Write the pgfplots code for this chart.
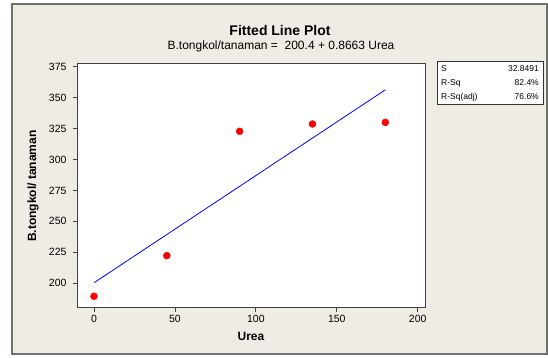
\documentclass[border=0pt]{standalone}
\usepackage{fontspec}
\setmainfont{Liberation Sans}
\usepackage{pgfplots}
\pgfplotsset{compat=1.18}
\definecolor{bg}{RGB}{239,236,227}
\definecolor{framec}{RGB}{112,112,112}
\begin{document}
\begin{tikzpicture}[x=1pt,y=1pt]
\path[use as bounding box, fill=white] (0,0) rectangle (548,358);
\filldraw[fill=bg, draw=framec, line width=1.5pt] (12,4) rectangle (547,354);
\node[font=\fontsize{14}{16}\selectfont\bfseries] at (280,327.3) {Fitted Line Plot};
\node[font=\fontsize{12}{14}\selectfont] at (281,311.3) {B.tongkol/tanaman =\ \ 200.4 + 0.8663 Urea};
\begin{axis}[at={(77pt,50pt)}, anchor=south west, scale only axis,
  width=348pt, height=244pt,
  xmin=-10.5, xmax=204.5, ymin=180, ymax=377.2,
  xtick={0,50,...,200}, ytick={200,225,...,375},
  tick align=outside, major tick length=4pt, tick pos=left,
  axis background/.style={fill=white},
  axis line style={draw=black!75, line width=1pt},
  every tick/.style={black!75, line width=0.8pt},
  ticklabel style={font=\fontsize{10.5}{12}\selectfont},
  /pgf/number format/assume math mode=true,
  xlabel={Urea}, ylabel={B.tongkol/ tanaman},
  xlabel style={font=\fontsize{12}{14}\selectfont\bfseries, at={(axis description cs:0.5,0)}, anchor=center, yshift=-28pt},
  ylabel style={font=\fontsize{12}{14}\selectfont\bfseries, at={(axis description cs:0,0.5)}, anchor=center, rotate=0, yshift=44pt},
  yticklabel style={xshift=-3pt},
]
\addplot[blue, line width=0.8pt] coordinates {(0,200.4) (180,356.33)};
\addplot[only marks, mark=*, mark size=3.5pt, color=red, mark options={draw=red, fill=red}] coordinates {(0,189.5) (45,222.3) (90,322.8) (135,328.7) (180,330.0)};
\end{axis}
\filldraw[fill=white, draw=black!80, line width=0.8pt] (437,297) rectangle (543,254);
\begin{scope}[every node/.style={font=\fontsize{8.5}{10}\selectfont, inner sep=0pt}]
\node[anchor=west] at (441,289) {S};
\node[anchor=west] at (441,275) {R-Sq};
\node[anchor=west] at (441,261) {R-Sq(adj)};
\node[anchor=east] at (539,289) {32.8491};
\node[anchor=east] at (539,275) {82.4\%};
\node[anchor=east] at (539,261) {76.6\%};
\end{scope}
\end{tikzpicture}
\end{document}
